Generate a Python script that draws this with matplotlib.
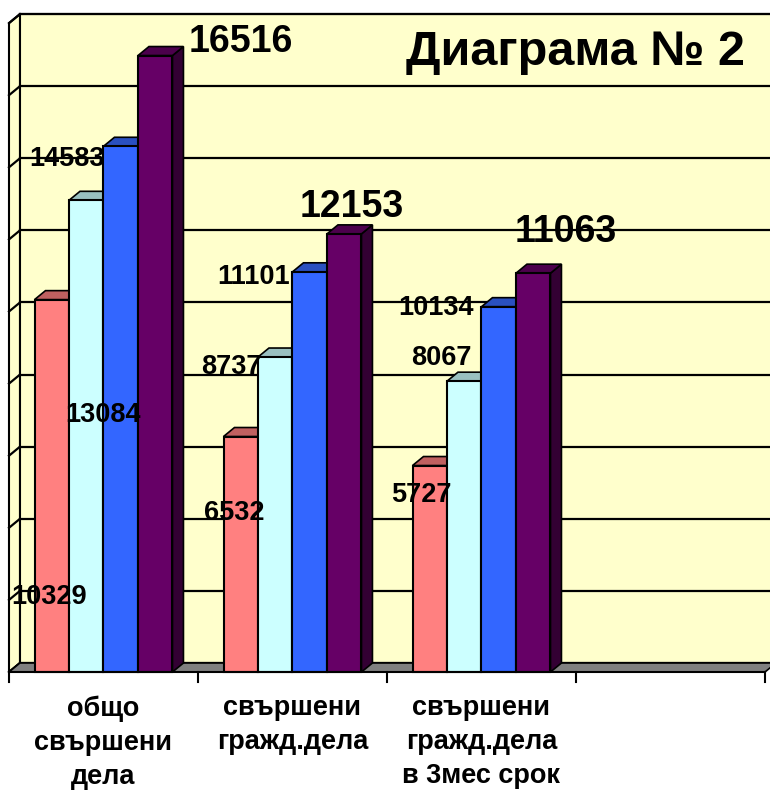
import numpy as np
import matplotlib.pyplot as plt
from matplotlib.patches import Polygon

plt.rcParams['font.family'] = ['Liberation Sans', 'DejaVu Sans']
plt.rcParams['font.weight'] = 'bold'

categories = ["общо\nсвършени\nдела", "свършени\nгражд.дела", "свършени\nгражд.дела\nв 3мес срок", ""]
series_colors = ["#FF8080", "#CCFFFF", "#3366FF", "#660066"]
top_colors = ["#C06060", "#99C0C0", "#2A50C0", "#4C004C"]
side_colors = ["#A05050", "#80A0A0", "#2040A0", "#330033"]

# bar heights as drawn (first purple bar stands taller than its label)
obshto = [10329, 13084, 14583, 17100]
grazhd = [6532, 8737, 11101, 12153]
grazhd_3mes = [5727, 8067, 10134, 11063]

label_text = [["10329", "13084", "14583", "16516"],
              ["6532", "8737", "11101", "12153"],
              ["5727", "8067", "10134", "11063"]]

# label placement: (x offset from bar centre in category units, y in value units)
label_pos = [[(-0.015, 2080), (0.089, 7130), (-0.284, 14230), (0.454, 17476)],
             [(-0.036, 4411), (-0.234, 8460), (-0.295, 10957), (0.041, 12899)],
             [(-0.046, 4910), (-0.123, 8710), (-0.332, 10097), (0.173, 12205)]]

groups = [obshto, grazhd, grazhd_3mes]

bar_w = 0.1825
dX = 0.058
dY = 250
y_max = 18000
step = 2000
n_cat = len(categories)

fig = plt.figure(figsize=(7.7, 7.9), dpi=100)
ax = fig.add_axes([0, 0, 1, 1])
ax.set_xlim(-0.5476, 3.5265)
ax.set_ylim(-3273, 18641)
ax.axis('off')

wall = "#FFFFCC"
left = -0.5
right = n_cat - 0.5

# back wall
ax.add_patch(Polygon([(left + dX, dY), (right + dX, dY), (right + dX, y_max + dY), (left + dX, y_max + dY)],
                     closed=True, facecolor=wall, edgecolor='black', lw=1.5, zorder=1))
# side wall
ax.add_patch(Polygon([(left, 0), (left, y_max), (left + dX, y_max + dY), (left + dX, dY)],
                     closed=True, facecolor=wall, edgecolor='black', lw=1.5, zorder=1))
# gridlines
for v in np.arange(0, y_max + 1, step):
    ax.plot([left + dX, right + dX], [v + dY, v + dY], color='black', lw=1.6, zorder=2)
    ax.plot([left, left + dX], [v, v + dY], color='black', lw=1.6, zorder=2)
# floor
ax.add_patch(Polygon([(left, 0), (right, 0), (right + dX, dY), (left + dX, dY)],
                     closed=True, facecolor="#808080", edgecolor='black', lw=1.2, zorder=3))

# bars
for gi, vals in enumerate(groups):
    for si, v in enumerate(vals):
        x0 = gi + (si - 2) * bar_w
        x1 = x0 + bar_w
        z = 4 + si
        ax.add_patch(Polygon([(x1, 0), (x1 + dX, dY), (x1 + dX, v + dY), (x1, v)],
                             closed=True, facecolor=side_colors[si], edgecolor='black', lw=1.2, zorder=z))
        ax.add_patch(Polygon([(x0, v), (x1, v), (x1 + dX, v + dY), (x0 + dX, v + dY)],
                             closed=True, facecolor=top_colors[si], edgecolor='black', lw=1.2, zorder=z))
        ax.bar(x0, v, width=bar_w, align='edge', color=series_colors[si], edgecolor='black', lw=1.5, zorder=z)

# value labels
for gi, vals in enumerate(groups):
    for si, v in enumerate(vals):
        xc = gi + (si - 1.5) * bar_w
        ox, oy = label_pos[gi][si]
        big = si == 3
        ax.text(xc + ox, oy, label_text[gi][si], ha='center', va='center',
                fontsize=27 if big else 19.5, fontweight='bold', zorder=10)

# x axis
ax.plot([left, right], [0, 0], color='black', lw=1.5, zorder=9)
for t in np.arange(left, right + 0.01, 1):
    ax.plot([t, t], [0, -277], color='black', lw=1.5, zorder=9)

for i, c in enumerate(categories):
    ax.text(i, -640, c, ha='center', va='top', fontsize=19.5, fontweight='bold', linespacing=1.4)

ax.text(2.495, 17198, "Диаграма № 2", ha='center', va='center', fontsize=35, fontweight='bold', zorder=10)

fig.savefig("out.png", dpi=100)
